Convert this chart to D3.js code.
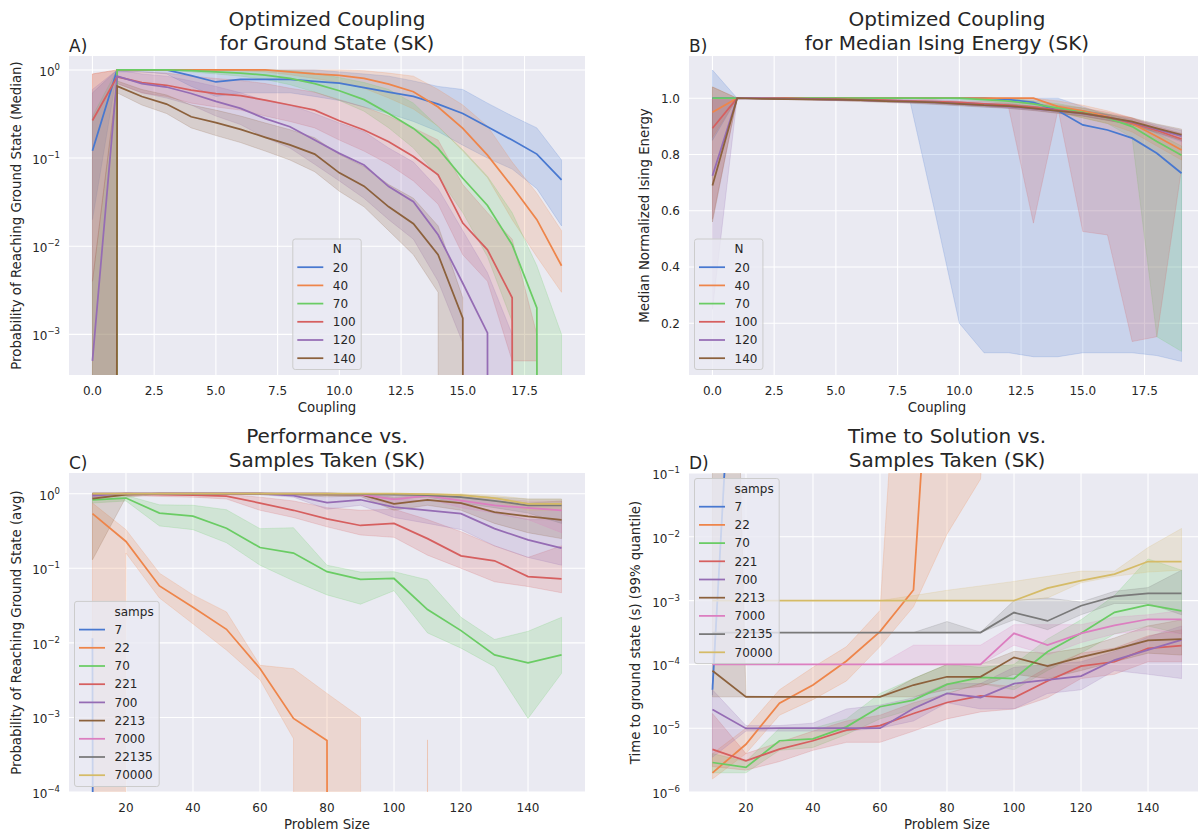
<!DOCTYPE html>
<html>
<head>
<meta charset="utf-8">
<script src="https://cdn.jsdelivr.net/npm/d3@7"></script>
<style>
  body { margin: 0; background: #fff; }
  text { font-family: "DejaVu Sans", sans-serif; fill: #262626; }
</style>
</head>
<body>
<svg id="fig" width="1198" height="833"></svg>
<script>
// seaborn "muted"
const muted = ["#4878d0", "#ee854a", "#6acc64", "#d65f5f", "#956cb4", "#8c613c", "#dc7ec0", "#797979", "#d5bb67"];

// ---------- A / B : coupling sweep ----------
const couplings = [0,1,2,3,4,5,6,7,8,9,10,11,12,13,14,15,16,17,18,19];
const sizesN = ["20", "40", "70", "100", "120", "140"];

const groundMed = [
  [0.121,1,1,1,0.86,0.73,0.78,0.78,0.78,0.74,0.71,0.63,0.56,0.50,0.41,0.32,0.227,0.16,0.111,0.0565],
  [0,1,1,1,1,1,1,1,0.95,0.90,0.87,0.80,0.69,0.565,0.38,0.217,0.108,0.0475,0.02,0.006],
  [0,1,1,1,0.98,0.95,0.92,0.873,0.80,0.70,0.58,0.46,0.32,0.217,0.129,0.059,0.029,0.0104,0.002,0],
  [0.267,0.835,0.72,0.67,0.59,0.54,0.51,0.455,0.40,0.35,0.265,0.208,0.153,0.104,0.0645,0.0183,0.0091,0.0026,0,0],
  [0.0005,0.85,0.70,0.64,0.54,0.44,0.366,0.28,0.227,0.16,0.113,0.0835,0.0475,0.032,0.0135,0.0038,0.00104,0,0,0],
  [0,0.655,0.50,0.41,0.294,0.252,0.212,0.172,0.141,0.111,0.068,0.048,0.028,0.018,0.008,0.00153,0,0,0,0]
];
const groundLo = [
  [0.02,0.95,0.95,0.9,0.65,0.5,0.55,0.55,0.55,0.5,0.45,0.38,0.32,0.26,0.2,0.14,0.1,0.075,0.045,0.017],
  [0,1,1,1,1,1,0.98,0.95,0.88,0.8,0.72,0.62,0.48,0.36,0.23,0.12,0.06,0.02,0.0076,0.003],
  [0,1,1,1,0.95,0.9,0.85,0.78,0.68,0.56,0.45,0.34,0.22,0.13,0.062,0.024,0.0076,0.0014,0,0],
  [0.004,0.7,0.55,0.5,0.42,0.38,0.35,0.3,0.26,0.22,0.16,0.12,0.085,0.055,0.03,0.008,0.004,0.0005,0.0005,0],
  [0,0.7,0.55,0.48,0.4,0.3,0.24,0.17,0.13,0.085,0.055,0.035,0.02,0.012,0.004,0.0008,0,0,0,0],
  [0,0.55,0.4,0.32,0.22,0.18,0.15,0.12,0.095,0.07,0.042,0.028,0.015,0.008,0.003,0,0,0,0,0]
];
const groundHi = [
  [0.55,1,1,1,1,1,1,1,1,1,0.95,0.9,0.85,0.75,0.65,0.6,0.42,0.3,0.22,0.095],
  [0.9,1,1,1,1,1,1,1,1,1,1,0.98,0.92,0.85,0.6,0.4,0.23,0.09,0.04,0.015],
  [0.3,1,1,1,1,1,1,1,0.98,0.92,0.82,0.72,0.6,0.42,0.227,0.124,0.062,0.024,0.006,0.001],
  [0.9,1,0.95,0.92,0.85,0.8,0.76,0.7,0.62,0.56,0.46,0.38,0.3,0.22,0.16,0.05,0.024,0.012,0.001,0],
  [0.6,1,0.9,0.85,0.75,0.65,0.55,0.45,0.4,0.32,0.25,0.2,0.13,0.09,0.045,0.015,0.005,0.001,0,0],
  [0.004,0.75,0.6,0.52,0.4,0.35,0.3,0.25,0.21,0.17,0.11,0.08,0.05,0.035,0.017,0.0026,0,0,0,0]
];

const energyMed = [
  [1,1,1,1,1,1,1,1,1,1,1,1,0.995,0.985,0.955,0.905,0.887,0.858,0.804,0.733],
  [0.95,1,1,1,1,1,1,1,1,1,1,1,1,1,0.97,0.955,0.935,0.91,0.864,0.816],
  [1,1,1,1,1,1,1,1,1,1,1,0.995,0.99,0.98,0.965,0.95,0.93,0.899,0.846,0.797],
  [0.893,1,1,1,0.998,0.997,0.995,0.993,0.99,0.988,0.985,0.98,0.975,0.968,0.958,0.947,0.932,0.912,0.885,0.855],
  [0.724,1,0.999,0.998,0.997,0.995,0.993,0.99,0.988,0.985,0.98,0.975,0.97,0.963,0.955,0.945,0.932,0.915,0.89,0.865],
  [0.69,1,0.998,0.997,0.996,0.995,0.993,0.99,0.988,0.985,0.98,0.975,0.972,0.964,0.955,0.946,0.932,0.917,0.893,0.87]
];
const energyLo = [
  [0.85,1,1,1,1,1,1,0.995,0.99,0.6,0.2,0.095,0.095,0.081,0.081,0.095,0.095,0.095,0.085,0.064],
  [0.86,1,1,1,1,1,1,1,1,1,1,1,0.995,0.99,0.95,0.93,0.91,0.88,0.83,0.78],
  [1,1,1,1,1,1,1,1,1,1,0.995,0.99,0.98,0.97,0.95,0.93,0.91,0.86,0.152,0.1],
  [0.57,1,0.998,0.996,0.994,0.992,0.99,0.988,0.985,0.982,0.978,0.972,0.965,0.556,0.96,0.526,0.514,0.135,0.152,0.75],
  [0.25,1,0.998,0.996,0.994,0.992,0.99,0.987,0.984,0.98,0.975,0.97,0.964,0.957,0.948,0.937,0.922,0.905,0.875,0.845],
  [0.56,1,0.997,0.995,0.993,0.991,0.988,0.985,0.982,0.978,0.973,0.968,0.964,0.956,0.946,0.936,0.921,0.905,0.878,0.85]
];
const energyHi = [
  [1.1,1,1,1,1,1,1,1,1,1,1,1,1,1,1,0.97,0.94,0.91,0.88,0.85],
  [1.04,1,1,1,1,1,1,1,1,1,1,1,1,1,0.99,0.975,0.955,0.93,0.89,0.85],
  [1,1,1,1,1,1,1,1,1,1,1,1,1,0.99,0.98,0.965,0.945,0.92,0.875,0.83],
  [1,1,1,1,1,1,1,1,1,0.995,0.99,0.988,0.985,0.98,0.975,0.965,0.95,0.93,0.9,0.875],
  [1,1,1,1,1,0.998,0.996,0.994,0.992,0.99,0.986,0.981,0.976,0.97,0.962,0.953,0.942,0.925,0.905,0.885],
  [1.04,1,1,0.999,0.998,0.997,0.996,0.994,0.992,0.99,0.986,0.982,0.98,0.972,0.964,0.956,0.943,0.93,0.908,0.89]
];

// ---------- C / D : samples sweep ----------
const problemSizes = [10,20,30,40,50,60,70,80,90,100,110,120,130,140,150];
const samps = ["7", "22", "70", "221", "700", "2213", "7000", "22135", "70000"];

const probAvg = [
  [0.0115,0,0,0,0,0,0,0,0,0,0,0,0,0,0],
  [0.54,0.229,0.058,0.030,0.0152,0.00454,0.00097,0.00049,0,0,0,0,0,0,0],
  [0.83,0.875,0.55,0.50,0.345,0.19,0.16,0.090,0.071,0.073,0.028,0.0146,0.0069,0.0054,0.0069],
  [0.98,1,0.97,0.96,0.93,0.75,0.60,0.46,0.375,0.40,0.25,0.147,0.126,0.0775,0.072],
  [0.94,1,1,1,1,1,0.94,0.76,0.83,0.66,0.60,0.54,0.34,0.24,0.186],
  [0.857,0.97,1,1,1,1,0.99,0.97,0.98,0.734,0.83,0.75,0.567,0.496,0.447],
  [1,1,1,1,1,1,1,1,0.98,0.84,0.94,0.81,0.70,0.645,0.60],
  [1,1,1,1,1,1,1,1,0.99,0.97,0.96,0.9,0.8,0.70,0.70],
  [1,1,1,1,1,1,1,1,1,1,0.99,0.96,0.875,0.73,0.73]
];
const probLo = [
  [0.0115,0,0,0,0,0,0,0,0,0,0,0,0,0,0],
  [0,0.16,0.04,0.018,0.008,0.0032,0.00052,0,0,0,0,0,0,0,0],
  [0.75,0.8,0.37,0.33,0.22,0.11,0.068,0.044,0.033,0.05,0.0136,0.0085,0.0048,0.00097,0.0039],
  [0.9,0.95,0.92,0.9,0.85,0.6,0.48,0.36,0.28,0.26,0.15,0.1,0.066,0.057,0.047],
  [0.85,0.98,0.98,0.98,0.98,0.97,0.9,0.62,0.7,0.48,0.4,0.33,0.2,0.14,0.11],
  [0.13,0.9,0.98,0.98,0.98,0.97,0.95,0.92,0.92,0.6,0.7,0.6,0.4,0.3,0.25],
  [0.95,0.98,0.98,0.98,0.98,0.98,0.98,0.97,0.93,0.7,0.85,0.65,0.55,0.45,0.3],
  [0.97,0.98,0.98,0.98,0.98,0.98,0.98,0.98,0.96,0.85,0.9,0.75,0.65,0.55,0.4],
  [0.98,0.98,0.98,0.98,0.98,0.98,0.98,0.98,0.98,0.98,0.95,0.92,0.8,0.6,0.6]
];
const probHi = [
  [0.0115,0,0,0,0,0,0,0,0,0,0,0,0,0,0],
  [0.75,0.33,0.086,0.044,0.026,0.005,0.0045,0.0021,0.001,0,0.0005,0,0,0,0],
  [0.9,0.95,0.71,0.70,0.61,0.34,0.35,0.11,0.089,0.09,0.07,0.022,0.0111,0.0143,0.022],
  [1,1,1,1,0.98,0.9,0.8,0.65,0.6,0.62,0.45,0.31,0.2,0.14,0.2],
  [1,1,1,1,1,1,1,0.9,0.95,0.85,0.8,0.75,0.55,0.45,0.45],
  [1,1,1,1,1,1,1,1,1,0.9,0.95,0.9,0.8,0.75,0.8],
  [1,1,1,1,1,1,1,1,1,0.95,1,0.95,0.85,0.8,0.8],
  [1,1,1,1,1,1,1,1,1,1,1,0.97,0.9,0.85,0.85],
  [1,1,1,1,1,1,1,1,1,1,1,1,0.95,0.85,0.85]
];

const ttsQ99 = [
  [4e-5,1.3e5,null,null,null,null,null,null,null,null,null,null,null,null,null],
  [2e-6,5.6e-6,2.46e-5,4.75e-5,1.13e-4,3.27e-4,1.47e-3,2e5,null,null,null,null,null,null,null],
  [2.9e-6,2.43e-6,6.36e-6,6.8e-6,1.05e-5,2.17e-5,2.76e-5,4.86e-5,6.26e-5,6.0e-5,1.58e-4,3.07e-4,6.56e-4,8.55e-4,6.9e-4],
  [4.65e-6,3.08e-6,4.7e-6,6.36e-6,9.3e-6,1.1e-5,1.7e-5,2.53e-5,3.2e-5,3.0e-5,5.5e-5,9.4e-5,1.1e-4,1.79e-4,1.97e-4],
  [1.97e-5,9.9e-6,1e-5,1e-5,1e-5,1e-5,2.04e-5,3.5e-5,3.03e-5,5.0e-5,5.7e-5,6.56e-5,1.17e-4,1.69e-4,2.42e-4],
  [7.96e-5,3.1e-5,3.1e-5,3.1e-5,3.1e-5,3.1e-5,4.75e-5,6.4e-5,6.4e-5,1.29e-4,9.4e-5,1.3e-4,1.72e-4,2.38e-4,2.5e-4],
  [1e-4,1e-4,1e-4,1e-4,1e-4,1e-4,1e-4,1e-4,1e-4,3.07e-4,2.0e-4,3.07e-4,4.1e-4,5.1e-4,5.1e-4],
  [3.16e-4,3.16e-4,3.16e-4,3.16e-4,3.16e-4,3.16e-4,3.16e-4,3.16e-4,3.16e-4,6.5e-4,4.8e-4,8.3e-4,1.16e-3,1.3e-3,1.3e-3],
  [1e-3,1e-3,1e-3,1e-3,1e-3,1e-3,1e-3,1e-3,1e-3,1e-3,1.57e-3,2.06e-3,2.6e-3,4.1e-3,4.1e-3]
];
const ttsLo = [
  [3.3e-5,1e5,null,null,null,null,null,null,null,null,null,null,null,null,null],
  [1.6e-6,4e-6,1.6e-5,2.8e-5,5.5e-5,1.9e-4,8e-4,1.1e-2,0.08,1e5,null,null,null,null,null],
  [2e-6,2e-6,4.5e-6,5e-6,8e-6,1.4e-5,2e-5,3.5e-5,5e-5,4e-5,8e-5,1.5e-4,3e-4,4e-4,3e-4],
  [2.5e-6,2.2e-6,3e-6,4.5e-6,6e-6,6e-6,9e-6,1.4e-5,1.8e-5,2e-5,3e-5,6e-5,7e-5,1.1e-4,1.1e-4],
  [3.5e-6,9e-6,9e-6,9e-6,9e-6,1e-5,1.3e-5,2.5e-5,2e-5,2e-5,3.5e-5,4e-5,8e-5,7e-5,6e-5],
  [3.1e-5,3.1e-5,3.1e-5,3.1e-5,3.1e-5,3.1e-5,3.1e-5,4e-5,4.5e-5,7e-5,6e-5,8e-5,1.1e-4,1.5e-4,1.4e-4],
  [1e-4,1e-4,1e-4,1e-4,1e-4,1e-4,1e-4,1e-4,1e-4,2e-4,1.4e-4,2.2e-4,3e-4,3.5e-4,3e-4],
  [3.16e-4,3.16e-4,3.16e-4,3.16e-4,3.16e-4,3.16e-4,3.16e-4,3.16e-4,3.16e-4,5e-4,3.5e-4,6e-4,9e-4,9e-4,6e-4],
  [1e-3,1e-3,1e-3,1e-3,1e-3,1e-3,1e-3,1e-3,1e-3,1e-3,1.1e-3,1.9e-3,2.4e-3,2.8e-3,3e-3]
];
const ttsHi = [
  [5e-5,1e5,null,null,null,null,null,null,null,null,null,null,null,null,null],
  [4e-6,1e-5,4e-5,9e-5,1.9e-4,7e-4,1e5,1e5,1e5,1e5,null,null,null,null,null],
  [4e-6,3e-6,1e-5,1e-5,1.4e-5,3.5e-5,6e-5,1e-4,9e-5,1e-4,2.5e-4,5e-4,1.2e-3,4.5e-3,3e-3],
  [1.7e-5,4e-6,6e-6,9e-6,1.3e-5,1.6e-5,2.5e-5,3.5e-5,5e-5,4.5e-5,9e-5,1.5e-4,1.8e-4,2.8e-4,3.5e-4],
  [4e-5,1.1e-5,1.1e-5,1.2e-5,2e-5,2.3e-5,3e-5,5e-5,5e-5,9e-5,1e-4,1.1e-4,1.6e-4,2.7e-4,4e-4],
  [1e17,3.2e-5,3.1e-5,3.1e-5,3.1e-5,3.1e-5,6e-5,1e-4,1e-4,1.6e-4,1.5e-4,1.8e-4,2.6e-4,4e-4,5e-4],
  [1e-4,1e-4,1e-4,1e-4,1e-4,1e-4,2e-4,2e-4,2e-4,4.2e-4,4.2e-4,4.2e-4,5.5e-4,6e-4,7e-4],
  [3.16e-4,3.16e-4,3.16e-4,3.16e-4,3.16e-4,3.16e-4,3.16e-4,4.7e-4,3.2e-4,1e-3,1.1e-3,9.5e-4,1.4e-3,1.6e-3,3e-3],
  [1e-3,1e-3,1e-3,1e-3,1e-3,1e-3,1.2e-3,1.45e-3,1.7e-3,2e-3,2.4e-3,2.9e-3,2.9e-3,6.8e-3,1.35e-2]
];

const couplingTicks = [0, 2.5, 5, 7.5, 10, 12.5, 15, 17.5];
const sizeTicks = [20, 40, 60, 80, 100, 120, 140];

const svg = d3.select("#fig");
let clipId = 0;

function panel(o) {
  const g = svg.append("g");
  const left = o.left, top = o.top, w = 516, h = 319;
  const x = d3.scaleLinear().domain(o.xDomain).range([left, left + w]);
  const y = (o.log ? d3.scaleLog() : d3.scaleLinear()).domain(o.yDomain).range([top + h, top]);
  const yv = v => o.log ? y(Math.min(Math.max(v, 1e-300), 1e300)) : y(v);

  g.append("rect").attr("x", left).attr("y", top).attr("width", w).attr("height", h).attr("fill", "#eaeaf2");

  const cid = "clip" + (clipId++);
  svg.append("clipPath").attr("id", cid).append("rect")
    .attr("x", left).attr("y", top).attr("width", w).attr("height", h);
  const plot = g.append("g").attr("clip-path", `url(#${cid})`);

  // grid
  plot.selectAll(null).data(o.xTicks).enter().append("line")
    .attr("x1", d => x(d)).attr("x2", d => x(d)).attr("y1", top).attr("y2", top + h)
    .attr("stroke", "#fff").attr("stroke-width", 1.1);
  plot.selectAll(null).data(o.yTicks).enter().append("line")
    .attr("y1", d => y(d)).attr("y2", d => y(d)).attr("x1", left).attr("x2", left + w)
    .attr("stroke", "#fff").attr("stroke-width", 1.1);

  const idx = o.xs.map((d, i) => i);
  // bands (below lines, like matplotlib zorder)
  o.lo.forEach((lo, s) => {
    const hi = o.hi[s];
    const area = d3.area()
      .defined(i => lo[i] != null && hi[i] != null)
      .x(i => x(o.xs[i])).y0(i => yv(lo[i])).y1(i => yv(hi[i]));
    plot.append("path").attr("d", area(idx))
      .attr("fill", muted[s]).attr("fill-opacity", 0.2)
      .attr("stroke", muted[s]).attr("stroke-opacity", 0.2).attr("stroke-width", 1);
  });
  o.mean.forEach((m, s) => {
    const line = d3.line().defined(i => m[i] != null).x(i => x(o.xs[i])).y(i => yv(m[i]));
    plot.append("path").attr("d", line(idx))
      .attr("fill", "none").attr("stroke", muted[s]).attr("stroke-width", 1.75);
  });

  // tick labels
  g.selectAll(null).data(o.xTicks).enter().append("text")
    .attr("x", d => x(d)).attr("y", top + h + 20).attr("text-anchor", "middle")
    .attr("font-size", 12).text(o.xFmt);
  const yt = g.selectAll(null).data(o.yTicks).enter().append("text")
    .attr("x", left - 9).attr("y", d => y(d) + (o.log ? 6 : 4.5)).attr("text-anchor", "end")
    .attr("font-size", 12);
  if (o.log) {
    yt.append("tspan").text("10");
    yt.append("tspan").attr("dy", -6).attr("font-size", 8.5)
      .text(d => { const e = Math.round(Math.log10(d)); return e < 0 ? "\u2212" + (-e) : String(e); });
  } else {
    yt.text(d3.format(".1f"));
  }

  // axis labels
  g.append("text").attr("x", left + w / 2 + (o.xLabelShift || 0)).attr("y", top + h + 36.5)
    .attr("text-anchor", "middle").attr("font-size", 13.3).text(o.xLabel);
  g.append("text").attr("transform", `translate(${o.yLabelX},${top + h / 2}) rotate(-90)`)
    .attr("text-anchor", "middle").attr("font-size", 13.3).text(o.yLabel);

  // title + panel letter
  const tcx = left + w / 2;
  o.title.forEach((t, i) => {
    g.append("text").attr("x", tcx).attr("y", top - 6 - (o.title.length - 1 - i) * 24)
      .attr("text-anchor", "middle").attr("font-size", 20).text(t);
  });
  g.append("text").attr("x", left).attr("y", top - 4).attr("font-size", 17).text(o.letter);

  // legend (seaborn style: hue name as a blank-handle first row)
  const rows = [o.legendTitle].concat(o.labels);
  const step = 18.2, boxH = 10 + step * (rows.length - 1) + 11.3;
  const lg = g.append("g");
  const frame = lg.append("rect").attr("rx", 2.5).attr("ry", 2.5)
    .attr("fill", "#eaeaf2").attr("fill-opacity", 0.8)
    .attr("stroke", "#cccccc").attr("stroke-width", 1);
  let maxW = 0;
  rows.forEach((r, i) => {
    const cy = 10 + i * step;
    const t = lg.append("text").attr("x", 40).attr("y", cy + 4.3).attr("font-size", 12).text(r);
    maxW = Math.max(maxW, t.node().getComputedTextLength());
    if (i > 0) {
      lg.append("line").attr("x1", 4.5).attr("x2", 30.5).attr("y1", cy).attr("y2", cy)
        .attr("stroke", muted[i - 1]).attr("stroke-width", 1.75);
    }
  });
  const boxW = 40 + maxW + 5.5;
  frame.attr("width", boxW).attr("height", boxH);
  let lx, ly;
  if (o.legendLoc === "lower center") { lx = left + w / 2 - boxW / 2; ly = top + h - 5.5 - boxH; }
  else if (o.legendLoc === "lower left") { lx = left + 5.5; ly = top + h - 5.5 - boxH; }
  else { lx = left + 5.5; ly = top + 5.5; }
  lg.attr("transform", `translate(${lx},${ly})`);
}

panel({
  left: 69, top: 56, log: true,
  xDomain: [-0.95, 19.95], yDomain: [Math.pow(10, -3.461), Math.pow(10, 0.158)],
  xTicks: couplingTicks, yTicks: [1, 0.1, 0.01, 0.001], xFmt: d3.format(".1f"),
  xs: couplings, mean: groundMed, lo: groundLo, hi: groundHi,
  xLabel: "Coupling", yLabel: "Probability of Reaching Ground State (Median)", yLabelX: 20.5,
  title: ["Optimized Coupling", "for Ground State (SK)"], letter: "A)",
  legendTitle: "N", labels: sizesN, legendLoc: "lower center"
});

panel({
  left: 689, top: 56, log: false, xLabelShift: -10,
  xDomain: [-0.95, 19.95], yDomain: [0.016, 1.150],
  xTicks: couplingTicks, yTicks: [0.2, 0.4, 0.6, 0.8, 1.0], xFmt: d3.format(".1f"),
  xs: couplings, mean: energyMed, lo: energyLo, hi: energyHi,
  xLabel: "Coupling", yLabel: "Median Normalized Ising Energy", yLabelX: 648.5,
  title: ["Optimized Coupling", "for Median Ising Energy (SK)"], letter: "B)",
  legendTitle: "N", labels: sizesN, legendLoc: "lower left"
});

panel({
  left: 69, top: 473, log: true,
  xDomain: [3, 157], yDomain: [1e-4, Math.pow(10, 0.278)],
  xTicks: sizeTicks, yTicks: [1, 0.1, 0.01, 0.001, 0.0001], xFmt: d3.format("d"),
  xs: problemSizes, mean: probAvg, lo: probLo, hi: probHi,
  xLabel: "Problem Size", yLabel: "Probability of Reaching Ground State (avg)", yLabelX: 20.5,
  title: ["Performance vs.", "Samples Taken (SK)"], letter: "C)",
  legendTitle: "samps", labels: samps, legendLoc: "lower left"
});

panel({
  left: 689, top: 473, log: true,
  xDomain: [3, 157], yDomain: [1e-6, 1e-1],
  xTicks: sizeTicks, yTicks: [1e-1, 1e-2, 1e-3, 1e-4, 1e-5, 1e-6], xFmt: d3.format("d"),
  xs: problemSizes, mean: ttsQ99, lo: ttsLo, hi: ttsHi,
  xLabel: "Problem Size", yLabel: "Time to ground state (s) (99% quantile)", yLabelX: 639.5,
  title: ["Time to Solution vs.", "Samples Taken (SK)"], letter: "D)",
  legendTitle: "samps", labels: samps, legendLoc: "upper left"
});
</script>
</body>
</html>
